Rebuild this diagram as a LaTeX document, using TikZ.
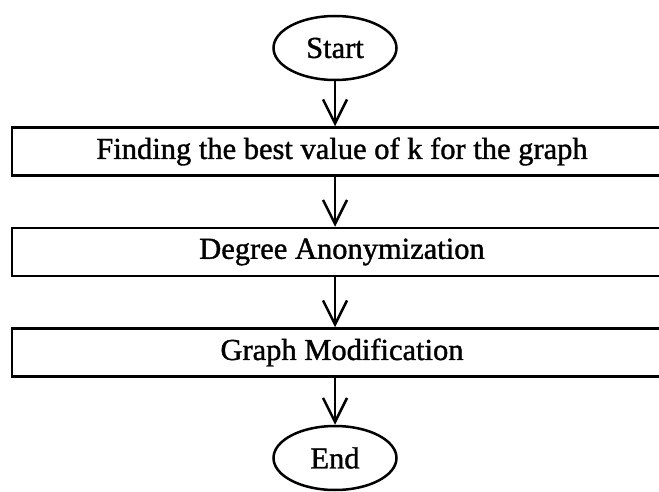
\documentclass[tikz,border=0pt]{standalone}
\usepackage{fontspec}
\setmainfont{Liberation Serif}
\newfontfamily\heavyserif[FakeBold=1.2]{Liberation Serif}
\usetikzlibrary{positioning, shapes.geometric, arrows.meta}
\tikzset{
    termnode/.style={
        ellipse,
        draw=black,
        line width=2.5pt, % thick border
        minimum width=123pt,
        minimum height=64pt,
        inner sep=0,
        font=\heavyserif\fontsize{30.5}{36}\selectfont
    },
    stepbox/.style={
        rectangle,
        draw=black,
        line width=2.5pt, % thick border
        minimum width=660pt,
        minimum height=48pt,
        inner sep=0,
        font=\heavyserif\fontsize{30.5}{36}\selectfont
    },
    flowarrow/.style={
        -{Straight Barb[length=24pt,width=24pt]},
        line width=2.5pt
    }
}

\begin{document}
\begin{tikzpicture}
            \useasboundingbox (0,0) rectangle (659pt,-492pt);
            \clip (0,0) rectangle (659pt,-492pt);
            % start and steps
            \node[termnode] (start) at (335pt,-48pt) {Start};
            \node[stepbox, below=45pt of start, xshift=7pt] (finding) {Finding the best value of k for the graph};
            \node[stepbox, below=50pt of finding] (degree) {Degree Anonymization};
            \node[stepbox, below=50pt of degree] (modif) {Graph Modification};
            \node[termnode, below=47pt of modif, xshift=-7pt] (stop) {End};
            % arrows
            \draw[flowarrow] (start.south) -- (start.south |- finding.north);
            \draw[flowarrow] (start.south |- finding.south) -- (start.south |- degree.north);
            \draw[flowarrow] (start.south |- degree.south) -- (start.south |- modif.north);
            \draw[flowarrow] (start.south |- modif.south) -- (stop.north);
\end{tikzpicture}
\end{document}
